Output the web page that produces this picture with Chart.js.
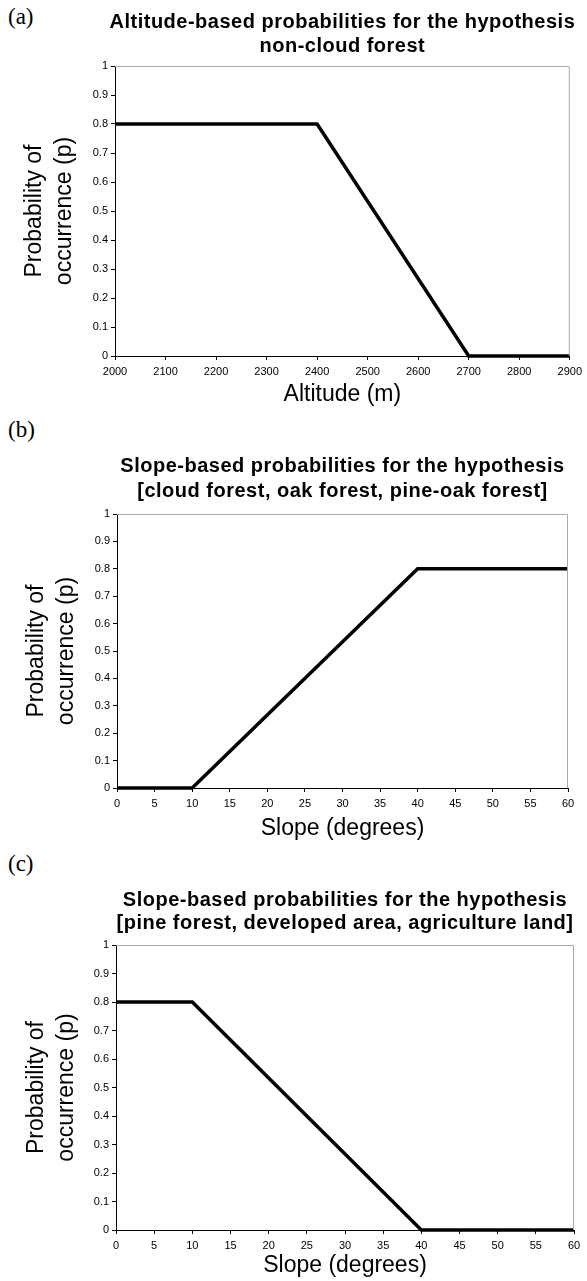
<!DOCTYPE html>
<html lang="en">
<head>
    <meta charset="UTF-8">
    <title>Probabilities of occurrence</title>
    <script src="https://cdn.jsdelivr.net/npm/chart.js"></script>
    <style>
        body {
            margin: 0;
            padding: 0;
            background: white;
            width: 587px;
            height: 1281px;
            position: relative;
            overflow: hidden;
        }

        .panel {
            position: absolute;
            left: 0;
        }

        .tag {
            position: absolute;
            left: 8px;
            font-family: "Liberation Serif", "Times New Roman", serif;
            font-size: 23px;
            line-height: 1;
        }
    </style>
</head>
<body>
    <div class="tag" style="top: 5px;">(a)</div>
    <div class="tag" style="top: 418px;">(b)</div>
    <div class="tag" style="top: 852px;">(c)</div>

    <div class="panel" style="top: 0px;"><canvas id="chartA" width="587" height="410"></canvas></div>
    <div class="panel" style="top: 410px;"><canvas id="chartB" width="587" height="440"></canvas></div>
    <div class="panel" style="top: 850px;"><canvas id="chartC" width="587" height="431"></canvas></div>

    <script>
        // chart data
        var altitude = [2000, 2400, 2700, 2900];
        var altitudeP = [0.8, 0.8, 0, 0];

        var slope = [0, 10, 40, 60];
        var slopeUpP = [0, 0, 0.8, 0.8];     // cloud / oak / pine-oak forest
        var slopeDownP = [0.8, 0.8, 0, 0];   // pine forest / developed / agriculture

        var titleA = ['Altitude-based probabilities for the hypothesis', 'non-cloud forest'];
        var titleB = ['Slope-based probabilities for the hypothesis', '[cloud forest, oak forest, pine-oak forest]'];
        var titleC = ['Slope-based probabilities for the hypothesis', '[pine forest, developed area, agriculture land]'];

        var yTitle = ['Probability of', 'occurrence (p)'];

        var tickFont = { family: '"Liberation Sans", Arial, sans-serif', size: 11 };
        var labelFont = { family: '"Liberation Sans", Arial, sans-serif', size: 23, lineHeight: 1.3 };

        // title drawn centred over the plot area, plus the grey plot frame on top/right
        var panelDecor = {
            id: 'panelDecor',
            afterDraw: function (chart, args, opts) {
                var ctx = chart.ctx;
                var area = chart.chartArea;
                ctx.save();
                ctx.strokeStyle = '#a8a8a8';
                ctx.lineWidth = 1;
                ctx.beginPath();
                ctx.moveTo(area.left, area.top + 0.5);
                ctx.lineTo(area.right - 0.5, area.top + 0.5);
                ctx.lineTo(area.right - 0.5, area.bottom);
                ctx.stroke();

                ctx.fillStyle = '#000';
                ctx.font = 'bold 20px "Liberation Sans", Arial, sans-serif';
                ctx.letterSpacing = '0.5px';
                ctx.textAlign = 'center';
                ctx.textBaseline = 'middle';
                var cx = (area.left + area.right) / 2;
                opts.lines.forEach(function (line, i) {
                    ctx.fillText(line, cx, opts.y[i]);
                });
                ctx.restore();
            }
        };

        function tickText(value) {
            return String(Math.round(value * 10) / 10);
        }

        function makeChart(id, xs, ys, cfg) {
            var points = xs.map(function (x, i) { return { x: x, y: ys[i] }; });
            return new Chart(document.getElementById(id), {
                type: 'line',
                data: {
                    datasets: [{
                        data: points,
                        borderColor: '#000',
                        borderWidth: 3.5,
                        pointRadius: 0,
                        tension: 0,
                        clip: false
                    }]
                },
                plugins: [panelDecor],
                options: {
                    responsive: false,
                    animation: false,
                    devicePixelRatio: 1,
                    layout: {
                        padding: { left: 20, right: 587 - cfg.right, top: cfg.top, bottom: 0 }
                    },
                    plugins: {
                        legend: { display: false },
                        tooltip: { enabled: false },
                        panelDecor: { lines: cfg.title, y: cfg.titleY }
                    },
                    scales: {
                        x: {
                            type: 'linear',
                            min: cfg.xMin,
                            max: cfg.xMax,
                            border: { display: true, color: '#000', width: 1 },
                            grid: { display: true, drawOnChartArea: false, color: '#000', tickLength: 4 },
                            ticks: { stepSize: cfg.xStep, color: '#000', font: tickFont, padding: 5, maxRotation: 0, autoSkip: false, callback: tickText },
                            title: { display: true, text: cfg.xTitle, color: '#000', font: labelFont, padding: { top: 0, bottom: cfg.xTitlePad } },
                            afterFit: function (scale) { scale.height = cfg.xHeight; }
                        },
                        y: {
                            min: 0,
                            max: 1,
                            border: { display: true, color: '#000', width: 1 },
                            grid: { display: true, drawOnChartArea: false, color: '#000', tickLength: 4 },
                            ticks: { stepSize: 0.1, color: '#000', font: tickFont, padding: 3, callback: tickText },
                            title: { display: true, text: yTitle, color: '#000', font: labelFont, padding: { top: cfg.yTitlePad, bottom: 0 } },
                            afterFit: function (scale) { scale.width = cfg.left - 20; }
                        }
                    }
                }
            });
        }

        makeChart('chartA', altitude, altitudeP, {
            title: titleA, titleY: [22, 46],
            top: 66, left: 115, right: 572, yTitlePad: 0,
            xMin: 2000, xMax: 2900, xStep: 100,
            xTitle: 'Altitude (m)', xHeight: 54, xTitlePad: 0
        });

        makeChart('chartB', slope, slopeUpP, {
            title: titleB, titleY: [56, 81],
            top: 104, left: 117, right: 568, yTitlePad: 2,
            xMin: 0, xMax: 60, xStep: 5,
            xTitle: 'Slope (degrees)', xHeight: 62, xTitlePad: 6
        });

        makeChart('chartC', slope, slopeDownP, {
            title: titleC, titleY: [50, 73],
            top: 95, left: 116, right: 574, yTitlePad: 2,
            xMin: 0, xMax: 60, xStep: 5,
            xTitle: 'Slope (degrees)', xHeight: 51, xTitlePad: 0
        });
    </script>
</body>
</html>
